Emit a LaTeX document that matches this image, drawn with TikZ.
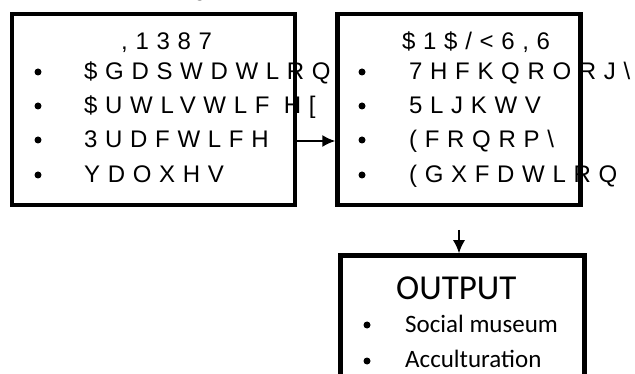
\documentclass[tikz,border=0pt]{standalone}
\usepackage{fontspec}
\setmainfont{Liberation Sans}
\newfontfamily\garb[LetterSpace=32]{Liberation Sans}
\newfontfamily\calib{Carlito}
\usetikzlibrary{arrows.meta}
\tikzset{
  box/.style={draw=black, line width=4.5pt, fill=white, minimum width=#1, inner sep=0pt},
  gtxt/.style={anchor=base west, inner sep=0pt, font=\garb\fontsize{24}{28}\selectfont},
  ctxt/.style={anchor=base west, inner sep=0pt, font=\calib\fontsize{25}{30}\selectfont},
  bul/.style={circle, fill=black, inner sep=0pt, minimum size=7pt},
  arr/.style={line width=1.5pt, -{Latex[length=13pt,width=12pt]}}
}
\begin{document}
\begin{tikzpicture}[x=1pt,y=-1pt]
\useasboundingbox (0,0) rectangle (635,374);
\clip (0,0) rectangle (635,374);
% fragment of text above
\node[anchor=base, inner sep=0pt, font=\fontsize{21}{25}\selectfont] (frag) at (200,-3) {g};
% box 1
\node[box=283pt, minimum height=191pt] (b1) at (153.5,109.5) {};
\node[gtxt] (t1) at (121,50) {,1387};
\node[bul] (b1d1) at (38,72) {};
\node[bul] (b1d2) at (38,106) {};
\node[bul] (b1d3) at (38,140) {};
\node[bul] (b1d4) at (38,175) {};
\node[gtxt] (t11) at (84,80) {\$GDSWDWLRQ};
\node[gtxt] (t12) at (84,114) {\$UWLVWLF H[};
\node[gtxt] (t13) at (84,148) {3UDFWLFH};
\node[gtxt] (t14) at (84,183) {YDOXHV};
% box 2
\node[box=243pt, minimum height=191pt] (b2) at (459,109.5) {};
\node[gtxt] (t2) at (402,50) {\$1\$/<6,6};
\node[bul] (b2d1) at (362,72) {};
\node[bul] (b2d2) at (362,106) {};
\node[bul] (b2d3) at (362,140) {};
\node[bul] (b2d4) at (362,175) {};
\node[gtxt] (t21) at (409,80) {7HFKQRORJ\textbackslash};
\node[gtxt] (t22) at (409,114) {5LJKWV};
\node[gtxt] (t23) at (409,148) {(FRQRP\textbackslash};
\node[gtxt] (t24) at (409,183) {(GXFDWLRQ};
% box 3
\node[box=244pt, minimum height=170pt] (b3) at (462.5,340.5) {};
\node[anchor=base west, inner sep=0pt, font=\calib\fontsize{35}{40}\selectfont] (t3) at (396,300) {OUTPUT};
\node[bul] (b3d1) at (367,325) {};
\node[bul] (b3d2) at (367,361) {};
\node[ctxt] (t31) at (405,333) {Social museum};
\node[ctxt] (t32) at (405,367) {Acculturation};
% connectors
\coordinate (a1) at (0,141);
\draw[arr] (b1.east |- a1) -- (b2.west |- a1);
\coordinate (a2) at (459,230);
\draw[arr] (a2) -- (a2 |- b3.north);
\end{tikzpicture}
\end{document}
